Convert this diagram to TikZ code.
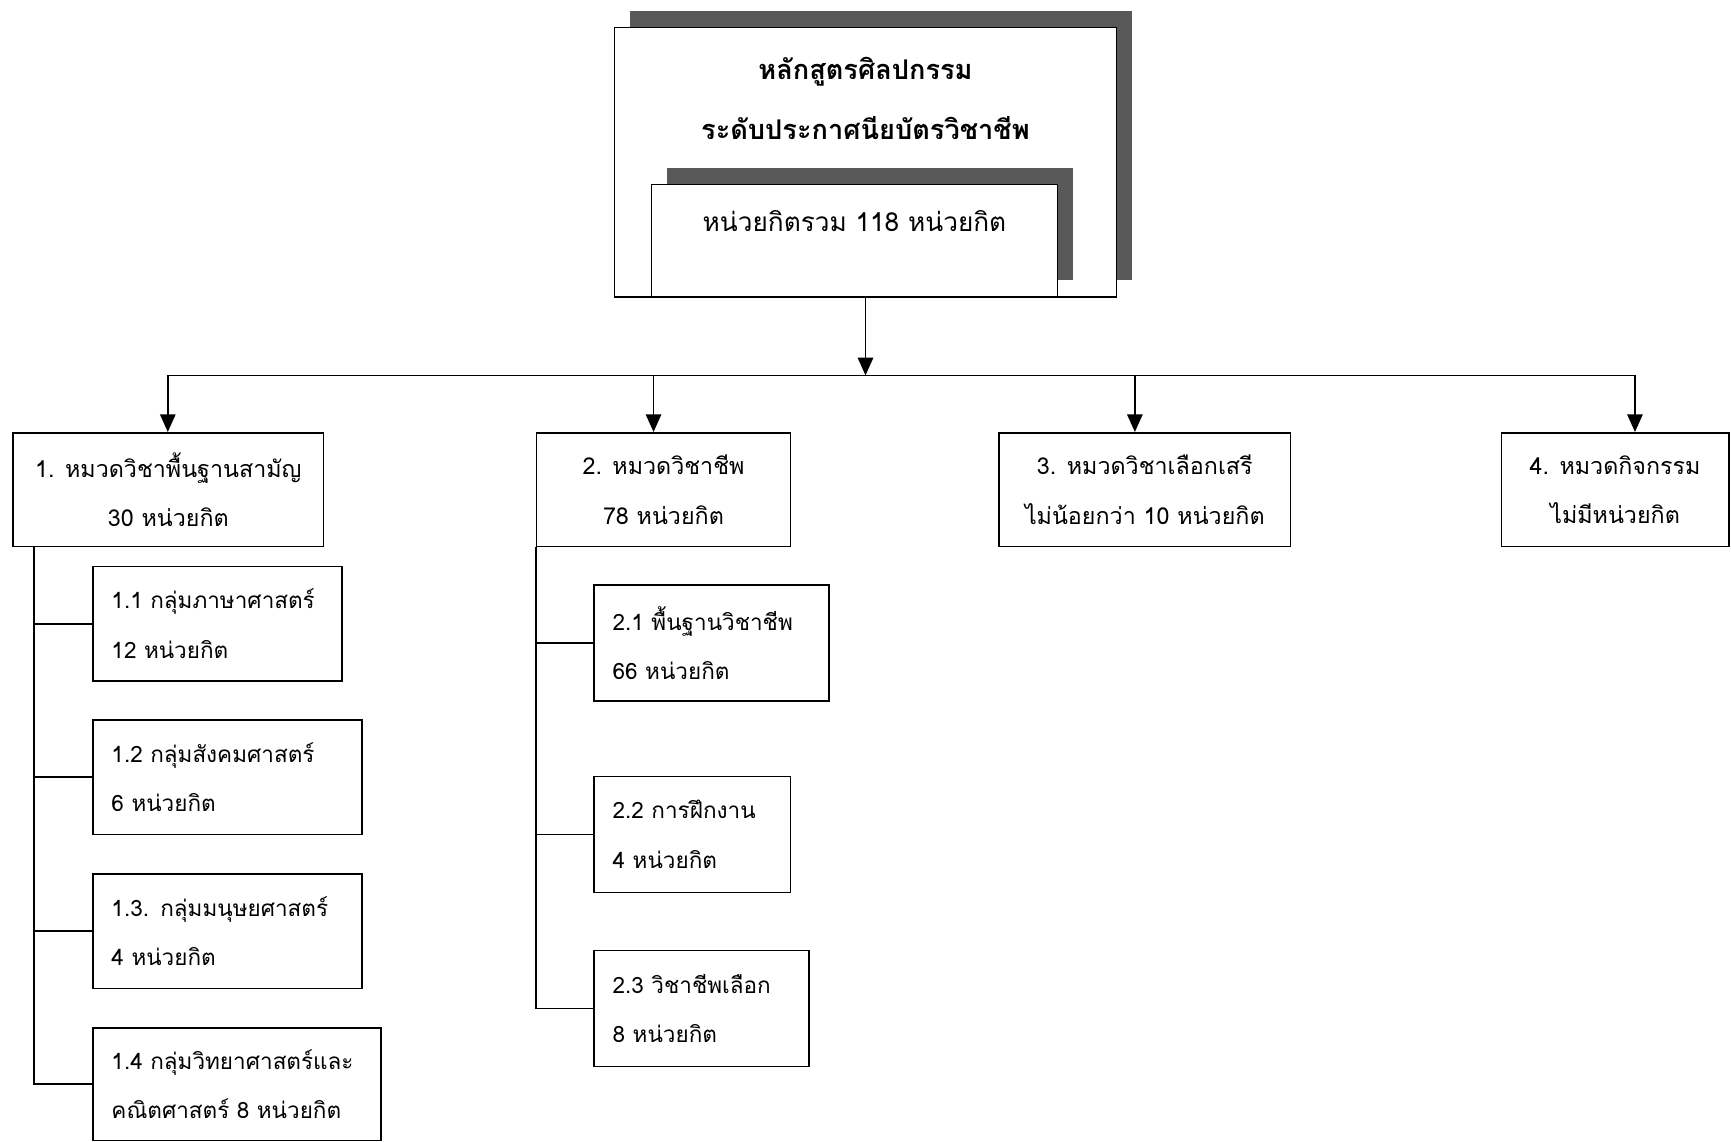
\documentclass[tikz,border=0pt]{standalone}
\usepackage{fontspec}
\newfontfamily\thaifont[Script=Thai]{Loma}
\usetikzlibrary{arrows.meta,shadows}
\tikzset{
  box/.style={draw, line width=0.8pt, fill=white, inner sep=0pt, minimum height=20.6mm,
    align=center, font=\thaifont\fontsize{12}{25.6}\selectfont},
  subbox/.style={box, align=left, inner xsep=3.4mm, text width=#1,
    font=\thaifont\fontsize{11.6}{25.6}\selectfont},
  down/.style={-{Triangle[width=2.8mm,length=3.2mm]}, line width=0.8pt},
  shadowbox/.style={drop shadow={shadow xshift=2.8mm, shadow yshift=3mm, fill=black!65, opacity=1}}
}
\begin{document}
\begin{tikzpicture}[x=0.2mm, y=-0.2mm]
  \useasboundingbox (0,0) rectangle (1568,1034);
  % top block
  \node[box, shadowbox, minimum width=91mm, minimum height=48.8mm] (course) at (784,147) {};
  \node[font=\thaifont\bfseries\fontsize{14}{31}\selectfont, align=center] (coursename) at (784,89)
    {หลักสูตรศิลปกรรม\\ระดับประกาศนียบัตรวิชาชีพ};
  \node[box, shadowbox, minimum width=73.6mm, minimum height=20.4mm,
    font=\thaifont\fontsize{13.5}{16}\selectfont] (total) at (774,218)
    {หน่วยกิตรวม 118 หน่วยกิต\\ \strut};
  % main categories
  \node[box, minimum width=56.2mm] (cat1) at (152.5,443.5) {1. หมวดวิชาพื้นฐานสามัญ\\30 หน่วยกิต};
  \node[box, minimum width=46mm] (cat2) at (601,443.5) {2. หมวดวิชาชีพ\\78 หน่วยกิต};
  \node[box, minimum width=52.8mm] (cat3) at (1037,443.5) {3. หมวดวิชาเลือกเสรี\\ไม่น้อยกว่า 10 หน่วยกิต};
  \node[box, minimum width=41.2mm] (cat4) at (1463,443.5) {4. หมวดกิจกรรม\\ไม่มีหน่วยกิต};
  % groups of 1
  \node[subbox=38.4mm, minimum height=20.8mm] (sub11) at (197,565) {1.1 กลุ่มภาษาศาสตร์\\12 หน่วยกิต};
  \node[subbox=42mm, minimum height=20.8mm] (sub12) at (206,704) {1.2 กลุ่มสังคมศาสตร์\\6 หน่วยกิต};
  \node[subbox=42mm, minimum height=20.8mm] (sub13) at (206,843.5) {1.3. กลุ่มมนุษยศาสตร์\\4 หน่วยกิต};
  \node[subbox=45.4mm, minimum height=20.4mm] (sub14) at (214.5,982) {1.4 กลุ่มวิทยาศาสตร์และ\\คณิตศาสตร์ 8 หน่วยกิต};
  % groups of 2
  \node[subbox=35.8mm, minimum height=21mm] (sub21) at (644.5,582.5) {2.1 พื้นฐานวิชาชีพ\\66 หน่วยกิต};
  \node[subbox=28.8mm, minimum height=21mm] (sub22) at (627,756) {2.2 การฝึกงาน\\4 หน่วยกิต};
  \node[subbox=32.2mm, minimum height=21mm] (sub23) at (635.5,913.5) {2.3 วิชาชีพเลือก\\8 หน่วยกิต};
  % connectors
  \coordinate (bus) at (784,340);
  \coordinate (d1) at (152,340);
  \coordinate (d2) at (592,340);
  \coordinate (d3) at (1028,340);
  \coordinate (d4) at (1481,340);
  \draw[down] (course.south) -- (bus);
  \draw[line width=0.8pt] (d1) -- (d4);
  \foreach \i in {1,...,4}
    \draw[down] (d\i) -- (d\i |- cat\i.north);
  \coordinate (trunk1) at (31,495);
  \foreach \s in {sub11,sub12,sub13,sub14}
    \draw[line width=0.8pt] (trunk1) |- (\s.west);
  \foreach \s in {sub21,sub22,sub23}
    \draw[line width=0.8pt] (cat2.south west) |- (\s.west);
\end{tikzpicture}
\end{document}
